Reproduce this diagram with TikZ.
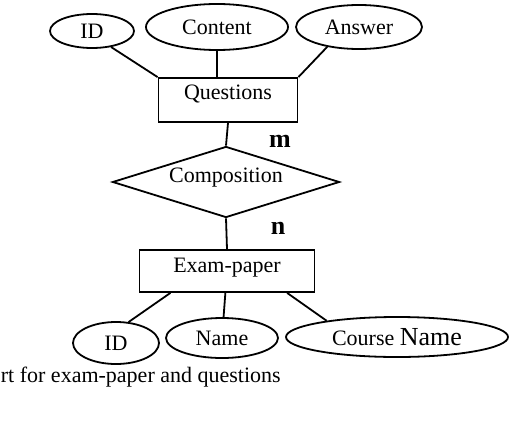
\documentclass[tikz,border=0pt]{standalone}
\usepackage{fontspec}
\setmainfont{Liberation Serif}
\usetikzlibrary{shapes,calc}
\begin{document}
\begin{tikzpicture}[x=1pt,y=-1pt,line width=1.8pt,
 every node/.style={font=\fontsize{22}{26}\selectfont},
 attr/.style={draw,ellipse,inner sep=0pt},
 entity/.style={draw,rectangle,inner sep=0pt},
 rel/.style={draw,diamond,aspect=3.2,inner sep=0pt}]
\useasboundingbox(0,0)rectangle(510,436);
% questions entity
\node[attr,minimum width=84pt,minimum height=34pt](qid)at(92,31){ID};
\node[attr,minimum width=142pt,minimum height=46pt](cnt)at(217,27){Content};
\node[attr,minimum width=126pt,minimum height=44pt](ans)at(359,27){Answer};
\node[entity,minimum width=139pt,text height=21pt,text depth=23pt](qst)at(228,100){Questions};
\draw(qid.-40)--(qst.north west);
\draw(cnt.south)--(cnt.south|-qst.north);
\draw(ans.212)--(qst.north east);
% relation
\node[rel,minimum width=227pt,minimum height=71pt,text height=12pt,text depth=12pt](cmp)at(226,182){Composition};
\node[font=\bfseries\fontsize{26}{30}\selectfont](m)at(280,141){m};
\node[font=\bfseries\fontsize{26}{30}\selectfont](n)at(278,228){n};
\draw(qst.south)--(cmp.north);
% exam-paper entity
\node[entity,minimum width=175pt,text height=22pt,text depth=20pt](exm)at(227,271){Exam-paper};
\draw(cmp.south)--(exm.north);
\node[attr,minimum width=86pt,minimum height=42pt](eid)at(116,343){ID};
\node[attr,minimum width=112pt,minimum height=40pt](enm)at(222,338){Name};
\node[attr,minimum width=222pt,minimum height=40pt](crs)at(397,337){Course {\fontsize{26}{30}\selectfont Name}};
\draw($(exm.south west)!.18!(exm.south east)$)--(eid.59);
\draw(exm)--(enm);
\draw($(exm.south west)!.84!(exm.south east)$)--(crs.167);
\node[anchor=base west,inner sep=0pt](cap)at(0,382){rt for exam-paper and questions};
\end{tikzpicture}
\end{document}
